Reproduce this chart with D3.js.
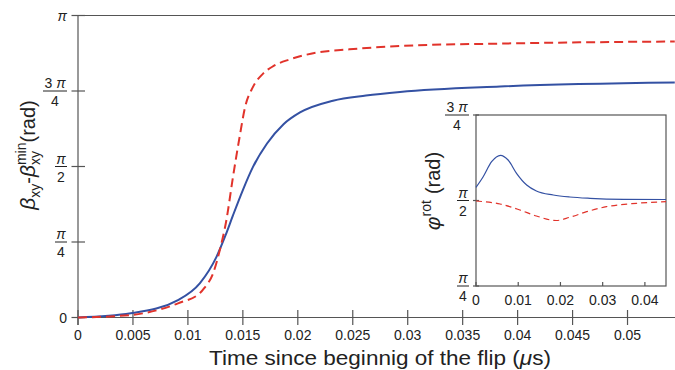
<!DOCTYPE html>
<html>
<head>
<meta charset="utf-8">
<script src="https://cdn.jsdelivr.net/npm/d3@7"></script>
<style>
  html, body { margin: 0; padding: 0; background: #fff; }
  svg { display: block; font-family: "Liberation Sans", Arial, Helvetica, sans-serif; }
</style>
</head>
<body>
<svg id="chart" width="675" height="370"></svg>
<script>
// Time axis (µs)
const mainTime  = [0, 0.0048, 0.0091, 0.0111, 0.0126, 0.0134, 0.0141, 0.015, 0.0159, 0.0172, 0.0187, 0.0202, 0.0232, 0.0262, 0.0293, 0.0384, 0.0543];
// β_xy − β_xy^min, in units of π — solid blue
const betaSolid = [0, 0.0139, 0.0578, 0.114, 0.2007, 0.27, 0.338, 0.422, 0.497, 0.576, 0.640, 0.679, 0.718, 0.735, 0.747, 0.765, 0.778];

const dashTime  = [0, 0.0048, 0.0091, 0.0111, 0.0115, 0.0123, 0.0129, 0.0135, 0.0141, 0.0147, 0.0152, 0.0159, 0.0168, 0.0178, 0.0193, 0.0217, 0.0247, 0.0293, 0.0384, 0.0543];
// β_xy − β_xy^min, in units of π — dashed red
const betaDashed = [0, 0.0083, 0.047, 0.081, 0.098, 0.147, 0.223, 0.322, 0.465, 0.597, 0.696, 0.762, 0.806, 0.833, 0.855, 0.877, 0.888, 0.899, 0.907, 0.914];

// Inset: φ_rot, in units of π
const insetSolidTime = [0, 0.0017, 0.0037, 0.0058, 0.0076, 0.0096, 0.012, 0.0143, 0.0183, 0.0222, 0.027, 0.035, 0.045];
const phiSolid       = [0.5386, 0.5696, 0.6135, 0.6322, 0.6184, 0.5795, 0.5453, 0.5278, 0.5161, 0.5102, 0.5064, 0.5035, 0.5029];
const insetDashTime  = [0, 0.0057, 0.0104, 0.0143, 0.019, 0.0222, 0.0262, 0.0309, 0.038, 0.045];
const phiDashed      = [0.4985, 0.4898, 0.4722, 0.4547, 0.4415, 0.4509, 0.4673, 0.4819, 0.4918, 0.4965];

// Tick values and labels
const mainXTicks  = [0, 0.005, 0.01, 0.015, 0.02, 0.025, 0.03, 0.035, 0.04, 0.045, 0.05];
const mainXLabels = ["0", "0.005", "0.01", "0.015", "0.02", "0.025", "0.03", "0.035", "0.04", "0.045", "0.05"];
const mainYTicks  = [0, 0.25, 0.5, 0.75, 1];          // × π
const mainYNum    = ["0", "π", "π", "3 π", "π"];
const mainYDen    = [null, "4", "2", "4", null];
const insetXTicks  = [0, 0.01, 0.02, 0.03, 0.04];
const insetXLabels = ["0", "0.01", "0.02", "0.03", "0.04"];
const insetYTicks  = [0.25, 0.5, 0.75];                // × π
const insetYNum    = ["π", "π", "3 π"];
const insetYDen    = ["4", "2", "4"];

const PI = Math.PI;
const BLUE = "#3451a3", RED = "#e1332b", AXIS = "#555", TEXT = "#222";
const svg = d3.select("#chart");

// ---------- helpers ----------
function richText(g, runs) {
  // lays out runs left to right; a run with stack:true shares the x of the previous run
  let x = 0, lastX = 0, lastW = 0;
  const nodes = [];
  runs.forEach(r => {
    const startX = r.stack ? lastX : x + (r.gap || 0);
    const t = g.append("text")
      .attr("x", startX).attr("y", r.dy || 0)
      .attr("font-size", r.size)
      .attr("fill", TEXT)
      .attr("font-style", r.italic ? "italic" : null)
      .text(r.text);
    const w = t.node().getComputedTextLength();
    nodes.push(t);
    if (r.stack) { x = startX + Math.max(w, lastW); lastW = Math.max(w, lastW); }
    else { lastX = startX; lastW = w; x = startX + w; }
  });
  nodes.forEach(t => t.attr("x", +t.attr("x") - x / 2));
}

function fracLabel(g, xRight, y, num, den, size, barW) {
  if (den === null) {
    g.append("text").attr("x", xRight).attr("y", y + size * 0.36)
      .attr("text-anchor", "end").attr("font-size", size).attr("fill", TEXT)
      .attr("font-style", num === "π" ? "italic" : null).text(num);
    return;
  }
  const cx = xRight - barW / 2;
  const t = g.append("text").attr("x", cx).attr("y", y - 3)
    .attr("text-anchor", "middle").attr("font-size", size).attr("fill", TEXT);
  if (num.startsWith("3")) {
    t.append("tspan").text("3\u00a0");
    t.append("tspan").attr("font-style", "italic").text("π");
  } else {
    t.append("tspan").attr("font-style", "italic").text("π");
  }
  g.append("line").attr("x1", xRight - barW).attr("x2", xRight)
    .attr("y1", y).attr("y2", y).attr("stroke", TEXT).attr("stroke-width", 1);
  g.append("text").attr("x", cx).attr("y", y + 15)
    .attr("text-anchor", "middle").attr("font-size", size).attr("fill", TEXT).text(den);
}

// ---------- main chart ----------
const x = d3.scaleLinear().domain([0, 0.05432]).range([78, 675]);
const y = d3.scaleLinear().domain([0, PI]).range([317.5, 15.5]);

const main = svg.append("g");

// frame lines
main.append("line").attr("x1", 72).attr("x2", 675).attr("y1", y(PI)).attr("y2", y(PI))
  .attr("stroke", AXIS).attr("stroke-width", 1.2);
main.append("line").attr("x1", 72).attr("x2", 675).attr("y1", y(0)).attr("y2", y(0))
  .attr("stroke", AXIS).attr("stroke-width", 1.2);
main.append("line").attr("x1", x(0)).attr("x2", x(0)).attr("y1", y(PI)).attr("y2", 325)
  .attr("stroke", AXIS).attr("stroke-width", 1.2);

// x ticks (crossing the axis)
mainXTicks.forEach((v, i) => {
  main.append("line").attr("x1", x(v)).attr("x2", x(v)).attr("y1", y(0) - 7.5).attr("y2", y(0) + 7.5)
    .attr("stroke", AXIS).attr("stroke-width", 1.2);
  main.append("text").attr("x", x(v)).attr("y", 340).attr("text-anchor", "middle")
    .attr("font-size", 14).attr("fill", TEXT).text(mainXLabels[i]);
});

// y ticks
mainYTicks.forEach((v, i) => {
  main.append("line").attr("x1", 71.5).attr("x2", 85).attr("y1", y(v * PI)).attr("y2", y(v * PI))
    .attr("stroke", AXIS).attr("stroke-width", 1.2);
  const barW = mainYNum[i].startsWith("3") ? 24 : 12;
  fracLabel(main, 67, y(v * PI), mainYNum[i], mainYDen[i], 14, barW);
});

// curves
const lineMain = d3.line().curve(d3.curveMonotoneX).x(d => x(d[0])).y(d => y(d[1] * PI));
main.append("path").datum(mainTime.map((t, i) => [t, betaSolid[i]]))
  .attr("d", lineMain).attr("fill", "none").attr("stroke", BLUE).attr("stroke-width", 2);
main.append("path").datum(dashTime.map((t, i) => [t, betaDashed[i]]))
  .attr("d", lineMain).attr("fill", "none").attr("stroke", RED).attr("stroke-width", 2)
  .attr("stroke-dasharray", "9,5");

// axis titles
const xt = main.append("text").attr("x", 380).attr("y", 365).attr("text-anchor", "middle")
  .attr("font-size", 20).attr("fill", TEXT)
  .attr("textLength", 342).attr("lengthAdjust", "spacingAndGlyphs");
xt.append("tspan").text("Time since beginnig of the flip (");
xt.append("tspan").attr("font-style", "italic").text("μ");
xt.append("tspan").text("s)");

const yt = main.append("g").attr("transform", "translate(35,155) rotate(-90)");
richText(yt, [
  { text: "β", size: 21, italic: true },
  { text: "xy", size: 14, dy: 5 },
  { text: "-", size: 20 },
  { text: "β", size: 21, italic: true },
  { text: "xy", size: 14, dy: 5 },
  { text: "min", size: 14, dy: -9, stack: true },
  { text: "(rad)", size: 20 }
]);

// ---------- inset ----------
const ix = d3.scaleLinear().domain([0, 0.045]).range([476, 666]);
const iy = d3.scaleLinear().domain([PI / 4, 3 * PI / 4]).range([286, 115]);
const inset = svg.append("g");

inset.append("rect").attr("x", ix(0)).attr("y", iy(3 * PI / 4))
  .attr("width", ix(0.045) - ix(0)).attr("height", iy(PI / 4) - iy(3 * PI / 4))
  .attr("fill", "#fff").attr("stroke", AXIS).attr("stroke-width", 1.2);

insetXTicks.forEach((v, i) => {
  inset.append("line").attr("x1", ix(v)).attr("x2", ix(v)).attr("y1", iy(PI / 4)).attr("y2", iy(PI / 4) - 4)
    .attr("stroke", AXIS).attr("stroke-width", 1.2);
  inset.append("text").attr("x", ix(v)).attr("y", 305).attr("text-anchor", "middle")
    .attr("font-size", 14).attr("fill", TEXT).text(insetXLabels[i]);
});

insetYTicks.forEach((v, i) => {
  inset.append("line").attr("x1", ix(0) - 3).attr("x2", ix(0) + 3).attr("y1", iy(v * PI)).attr("y2", iy(v * PI))
    .attr("stroke", AXIS).attr("stroke-width", 1.2);
  const barW = insetYNum[i].startsWith("3") ? 24 : 12;
  fracLabel(inset, 469, iy(v * PI), insetYNum[i], insetYDen[i], 14, barW);
});

const lineInset = d3.line().curve(d3.curveMonotoneX).x(d => ix(d[0])).y(d => iy(d[1] * PI));
inset.append("path").datum(insetSolidTime.map((t, i) => [t, phiSolid[i]]))
  .attr("d", lineInset).attr("fill", "none").attr("stroke", BLUE).attr("stroke-width", 1.2);
inset.append("path").datum(insetDashTime.map((t, i) => [t, phiDashed[i]]))
  .attr("d", lineInset).attr("fill", "none").attr("stroke", RED).attr("stroke-width", 1.2)
  .attr("stroke-dasharray", "6,4");

const it = inset.append("g").attr("transform", "translate(440,191) rotate(-90)");
richText(it, [
  { text: "φ", size: 21, italic: true },
  { text: "rot", size: 14, dy: -9 },
  { text: "(rad)", size: 20, gap: 6 }
]);
</script>
</body>
</html>
